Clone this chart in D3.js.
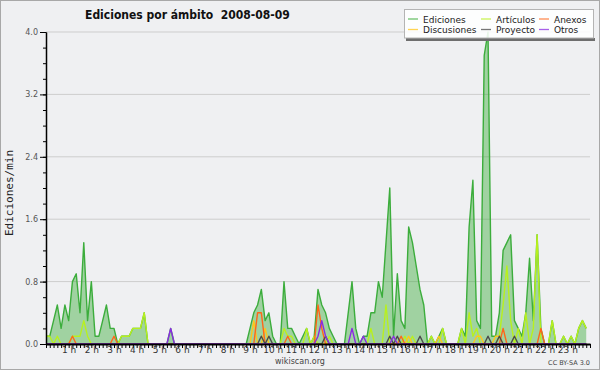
<!DOCTYPE html>
<html lang="es">

<head>
    <meta charset="UTF-8">
    <title>Ediciones por ámbito</title>
    <script src="https://cdn.jsdelivr.net/npm/d3@7/dist/d3.min.js"></script>

    <style>

        body {
            margin: 0;
            background: #fff;
        }

        svg {
            display: block;
            font-family: "DejaVu Sans", sans-serif;
        }

        .grid line {
            stroke: #cdcdcd;
            stroke-width: 1px;
        }

        .axis path,
        .axis line {
            stroke: #000;
        }

        .axis text {
            font-family: "DejaVu Sans", sans-serif;
        }

    </style>

</head>

<body>

    <svg width="600" height="370"></svg>

    <script>

        // Ediciones por minuto, un valor cada 10 minutos (12 valores por fila = 2 horas)

        var ediciones = [
            0.1, 0.1, 0.3, 0.5, 0.2, 0.5,   0.3, 0.8, 0.9, 0.4, 1.3, 0.3,   // 0-1 h
            0.8, 0.1, 0.1, 0.3, 0.5, 0.2,   0.2, 0,   0.1, 0.1, 0.1, 0.2,   // 2-3 h
            0.2, 0.2, 0.4, 0,   0,   0,     0,   0,   0,   0.2, 0,   0,     // 4-5 h
            0,   0,   0,   0,   0,   0,     0,   0,   0,   0,   0,   0,     // 6-7 h
            0,   0,   0,   0,   0,   0,     0.2, 0.4, 0.5, 0.7, 0.3, 0.4,   // 8-9 h
            0.1, 0,   0,   0.8, 0.2, 0.2,   0.1, 0,   0.1, 0.2, 0,   0.1,   // 10-11 h
            0.7, 0.5, 0.4, 0.2, 0.1, 0,     0,   0,   0.4, 0.8, 0.2, 0,     // 12-13 h
            0.1, 0.1, 0.4, 0.4, 0.8, 0.6,   1.3, 2.0, 0.1, 0.9, 0.3, 0.2,   // 14-15 h
            1.5, 1.3, 1.0, 0.7, 0.5, 0,     0.1, 0,   0.1, 0.2, 0,   0,     // 16-17 h
            0,   0,   0.2, 0.1, 1.5, 2.1,   0.3, 0.2, 3.7, 4.0, 0.1, 0.1,   // 18-19 h
            0.4, 1.2, 1.3, 1.4, 0.3, 0.2,   0.1, 0.4, 1.1, 0.3, 1.4, 0.2,   // 20-21 h
            0,   0,   0.3, 0,   0,   0.1,   0,   0.1, 0,   0.2, 0.3, 0.2    // 22-23 h
        ];

        var articulos = [
            0.1, 0.1, 0,   0.1, 0,   0,     0,   0.1, 0.1, 0.1, 0.3, 0.1,
            0,   0,   0,   0,   0,   0,     0,   0,   0.1, 0.1, 0.1, 0.2,
            0.2, 0.2, 0.4, 0,   0,   0,     0,   0,   0,   0,   0,   0,
            0,   0,   0,   0,   0,   0,     0,   0,   0,   0,   0,   0,
            0,   0,   0,   0,   0,   0,     0,   0,   0,   0,   0,   0,
            0,   0,   0,   0.2, 0.1, 0.1,   0,   0,   0,   0.2, 0,   0.1,
            0,   0,   0,   0.1, 0,   0,     0,   0,   0,   0,   0,   0,
            0,   0,   0.2, 0,   0,   0,     0.5, 0,   0,   0,   0,   0.1,
            0,   0.1, 0,   0,   0,   0,     0.1, 0,   0,   0.2, 0,   0,
            0,   0,   0.2, 0,   0.4, 0.1,   0.2, 0,   0,   0,   0,   0,
            0.1, 0.5, 1.0, 0.3, 0,   0.2,   0,   0.4, 0,   0.2, 1.4, 0,
            0,   0,   0.3, 0,   0,   0.1,   0,   0.1, 0,   0.2, 0.3, 0.2
        ];

        var discusiones = [
            0,   0,   0,   0,   0,   0,     0,   0,   0,   0,   0,   0,
            0,   0,   0,   0,   0,   0,     0,   0,   0,   0,   0,   0,
            0,   0,   0,   0,   0,   0,     0,   0,   0,   0,   0,   0,
            0,   0,   0,   0,   0,   0,     0,   0,   0,   0,   0,   0,
            0,   0,   0,   0,   0,   0,     0,   0.3, 0,   0,   0.2, 0,
            0,   0,   0,   0,   0,   0,     0,   0,   0,   0,   0,   0,
            0,   0,   0,   0,   0,   0,     0,   0,   0,   0,   0,   0,
            0,   0,   0,   0,   0,   0,     0,   0,   0,   0,   0,   0,
            0.1, 0,   0,   0,   0,   0,     0,   0,   0.1, 0,   0,   0,
            0,   0,   0,   0,   0,   0,     0.1, 0.1, 0,   0,   0,   0.1,
            0.1, 0,   0,   0,   0,   0,     0,   0,   0,   0,   0,   0,
            0,   0,   0,   0,   0,   0,     0,   0,   0,   0,   0,   0
        ];

        var anexos = [
            0,   0,   0,   0,   0,   0,     0,   0.1, 0,   0,   0,   0,
            0,   0,   0,   0,   0,   0,     0.1, 0,   0,   0,   0,   0,
            0,   0,   0,   0,   0,   0,     0,   0,   0,   0,   0,   0,
            0,   0,   0,   0,   0,   0,     0,   0,   0,   0,   0,   0,
            0,   0,   0,   0,   0,   0,     0,   0,   0.4, 0.4, 0,   0,
            0,   0,   0,   0,   0.1, 0,     0,   0,   0,   0,   0,   0,
            0.5, 0.2, 0,   0,   0,   0,     0,   0,   0,   0,   0,   0,
            0,   0,   0,   0,   0,   0,     0,   0,   0,   0,   0.1, 0,
            0,   0,   0,   0,   0,   0,     0,   0,   0,   0,   0,   0,
            0,   0,   0,   0,   0,   0,     0,   0,   0,   0,   0,   0,
            0,   0.2, 0,   0,   0,   0,     0,   0,   0,   0,   0,   0.2,
            0,   0,   0,   0,   0,   0,     0,   0,   0,   0,   0,   0
        ];

        var proyecto = [
            0,   0,   0,   0,   0,   0,     0,   0,   0,   0,   0,   0,
            0,   0,   0,   0,   0,   0,     0,   0,   0,   0,   0,   0,
            0,   0,   0,   0,   0,   0,     0,   0,   0,   0,   0,   0,
            0,   0,   0,   0,   0,   0,     0,   0,   0,   0,   0,   0,
            0,   0,   0,   0,   0,   0,     0,   0,   0,   0.1, 0,   0.1,
            0,   0,   0,   0,   0,   0,     0,   0,   0,   0,   0,   0,
            0,   0,   0.1, 0,   0,   0,     0,   0,   0,   0,   0,   0,
            0,   0,   0,   0,   0,   0,     0,   0.1, 0,   0.1, 0,   0,
            0,   0,   0,   0.1, 0,   0,     0,   0,   0,   0,   0,   0,
            0,   0,   0,   0,   0,   0,     0,   0,   0,   0.1, 0,   0,
            0.1, 0,   0,   0,   0.1, 0,     0,   0,   0,   0,   0,   0,
            0,   0,   0,   0,   0,   0,     0,   0,   0,   0,   0,   0
        ];

        var otros = [
            0,   0,   0,   0,   0,   0,     0,   0,   0,   0,   0,   0,
            0,   0,   0,   0,   0,   0,     0,   0,   0,   0,   0,   0,
            0,   0,   0,   0,   0,   0,     0,   0,   0,   0.2, 0,   0,
            0,   0,   0,   0,   0,   0,     0,   0,   0,   0,   0,   0,
            0,   0,   0,   0,   0,   0,     0,   0,   0,   0,   0,   0,
            0,   0,   0,   0,   0,   0,     0,   0,   0,   0,   0,   0,
            0.1, 0.3, 0.1, 0,   0,   0,     0,   0,   0,   0.2, 0,   0,
            0.1, 0,   0,   0,   0,   0,     0,   0,   0.1, 0,   0,   0,
            0,   0,   0,   0,   0,   0,     0,   0,   0,   0,   0,   0,
            0,   0,   0,   0,   0,   0,     0,   0,   0,   0,   0,   0,
            0,   0,   0,   0,   0,   0,     0,   0,   0,   0,   0,   0,
            0,   0,   0,   0,   0,   0,     0,   0,   0,   0,   0,   0
        ];

        var yTicks = [0, 0.8, 1.6, 2.4, 3.2, 4.0];
        var hourLabels = d3.range(1, 24);

        var titulo = "Ediciones por ámbito  2008-08-09";

        var svg = d3.select("svg"),
            width = +svg.attr("width"),
            height = +svg.attr("height");

        var x = d3.scaleLinear().domain([0, 24]).range([46, 590]);
        var y = d3.scaleLinear().domain([0, 4]).range([344, 32]);

        // hora de cada muestra (cada 10 min)
        function toPoints(values) {
            return values.map(function(v, i) { return { h: i / 6, v: v }; });
        }

        // fondo y borde
        svg.append("rect")
            .attr("x", 0.5).attr("y", 0.5)
            .attr("width", width - 1).attr("height", height - 1)
            .attr("fill", "#eff0f2")
            .attr("stroke", "#a8a8a8");

        // rejilla
        svg.append("g")
            .attr("class", "grid")
            .selectAll("line")
            .data(yTicks.filter(function(d) { return d > 0; }))
            .enter().append("line")
            .attr("x1", x(0)).attr("x2", x(24))
            .attr("y1", function(d) { return y(d); })
            .attr("y2", function(d) { return y(d); });

        var line = d3.line()
            .x(function(d) { return x(d.h); })
            .y(function(d) { return y(d.v); });

        var area = d3.area()
            .x(function(d) { return x(d.h); })
            .y0(y(0))
            .y1(function(d) { return y(d.v); });

        svg.append("path")
            .datum(toPoints(ediciones))
            .attr("d", area)
            .attr("fill", "#33aa33")
            .attr("fill-opacity", 0.42);

        var series = [
            { name: "Ediciones",   values: ediciones,   color: "#3cad3c" },
            { name: "Artículos",   values: articulos,   color: "#b8f01e" },
            { name: "Discusiones", values: discusiones, color: "#ffc61a" },
            { name: "Anexos",      values: anexos,      color: "#ff6619" },
            { name: "Proyecto",    values: proyecto,    color: "#4a4a4a" },
            { name: "Otros",       values: otros,       color: "#8a2be2" }
        ];

        svg.append("g")
            .selectAll("path")
            .data(series)
            .enter().append("path")
            .attr("d", function(d) { return line(toPoints(d.values)); })
            .attr("fill", "none")
            .attr("stroke", function(d) { return d.color; })
            .attr("stroke-width", 1.4)
            .attr("stroke-linejoin", "round");

        // eje Y
        var yAxis = svg.append("g")
            .attr("class", "axis")
            .attr("transform", "translate(" + x(0) + ",0)")
            .call(d3.axisLeft(y)
                .tickValues(yTicks)
                .tickFormat(d3.format(".1f"))
                .tickSize(6)
                .tickSizeOuter(0)
                .tickPadding(2));

        yAxis.selectAll("text")
            .attr("font-size", 8)
            .attr("fill", "#555");

        svg.append("g")
            .attr("class", "axis")
            .attr("transform", "translate(" + x(0) + ",0)")
            .call(d3.axisLeft(y)
                .tickValues(d3.range(21).map(function(i) { return i * 0.2; }))
                .tickFormat("")
                .tickSize(3)
                .tickSizeOuter(0));

        yAxis.select(".domain").attr("stroke-width", 1.5);

        // eje X
        var xAxis = svg.append("g")
            .attr("class", "axis")
            .attr("transform", "translate(0," + y(0) + ")")
            .call(d3.axisBottom(x)
                .tickValues(d3.range(145).map(function(i) { return i / 6; }))
                .tickFormat("")
                .tickSize(4)
                .tickSizeOuter(0));

        xAxis.select(".domain").attr("stroke-width", 2);

        var xLabels = svg.append("g")
            .attr("class", "axis")
            .attr("transform", "translate(0," + y(0) + ")")
            .call(d3.axisBottom(x)
                .tickValues(hourLabels)
                .tickFormat(function(d) { return d + " h"; })
                .tickSize(0)
                .tickPadding(3));

        xLabels.select(".domain").remove();
        xLabels.selectAll("text")
            .attr("font-size", 9)
            .attr("fill", "#333");

        // titulo
        svg.append("text")
            .attr("x", 85)
            .attr("y", 18.5)
            .attr("font-family", "'DejaVu Sans Condensed', 'DejaVu Sans', sans-serif")
            .attr("font-stretch", "condensed")
            .attr("font-weight", "bold")
            .attr("font-size", 12)
            .attr("fill", "#111")
            .style("white-space", "pre")
            .text(titulo);

        svg.append("text")
            .attr("transform", "translate(13,193) rotate(-90)")
            .attr("text-anchor", "middle")
            .attr("font-family", "'DejaVu Sans Mono', monospace")
            .attr("font-size", 11)
            .attr("fill", "#222")
            .text("Ediciones/min");

        svg.append("text")
            .attr("x", 300).attr("y", 363.5)
            .attr("text-anchor", "middle")
            .attr("font-size", 8)
            .attr("fill", "#444")
            .text("wikiscan.org");

        svg.append("text")
            .attr("x", 590).attr("y", 365)
            .attr("text-anchor", "end")
            .attr("font-size", 6.5)
            .attr("fill", "#444")
            .text("CC BY-SA 3.0");

        // leyenda
        var legendOrder = ["Ediciones", "Artículos", "Anexos", "Discusiones", "Proyecto", "Otros"];
        var legendCols = [408, 481, 539];
        var legendRows = [19, 29.5];

        var legend = svg.append("g");

        legend.append("rect")
            .attr("x", 406).attr("y", 38)
            .attr("width", 189).attr("height", 3)
            .attr("fill", "#6e6e6e");

        legend.append("rect")
            .attr("x", 404.5).attr("y", 9.5)
            .attr("width", 189).attr("height", 28.5)
            .attr("fill", "#fff")
            .attr("fill-opacity", 0.88)
            .attr("stroke", "#b4b4b4");

        var item = legend.selectAll("g.item")
            .data(legendOrder.map(function(n) {
                return series.filter(function(s) { return s.name === n; })[0];
            }))
            .enter().append("g")
            .attr("class", "item")
            .attr("transform", function(d, i) {
                return "translate(" + legendCols[i % 3] + "," + legendRows[Math.floor(i / 3)] + ")";
            });

        item.append("line")
            .attr("x1", 0).attr("x2", 10)
            .attr("stroke", function(d) { return d.color; })
            .attr("stroke-opacity", 0.75)
            .attr("stroke-width", 1.3);

        item.append("text")
            .attr("x", 15)
            .attr("y", 3.5)
            .attr("font-size", 9)
            .attr("fill", "#222")
            .text(function(d) { return d.name; });

    </script>

</body>

</html>
